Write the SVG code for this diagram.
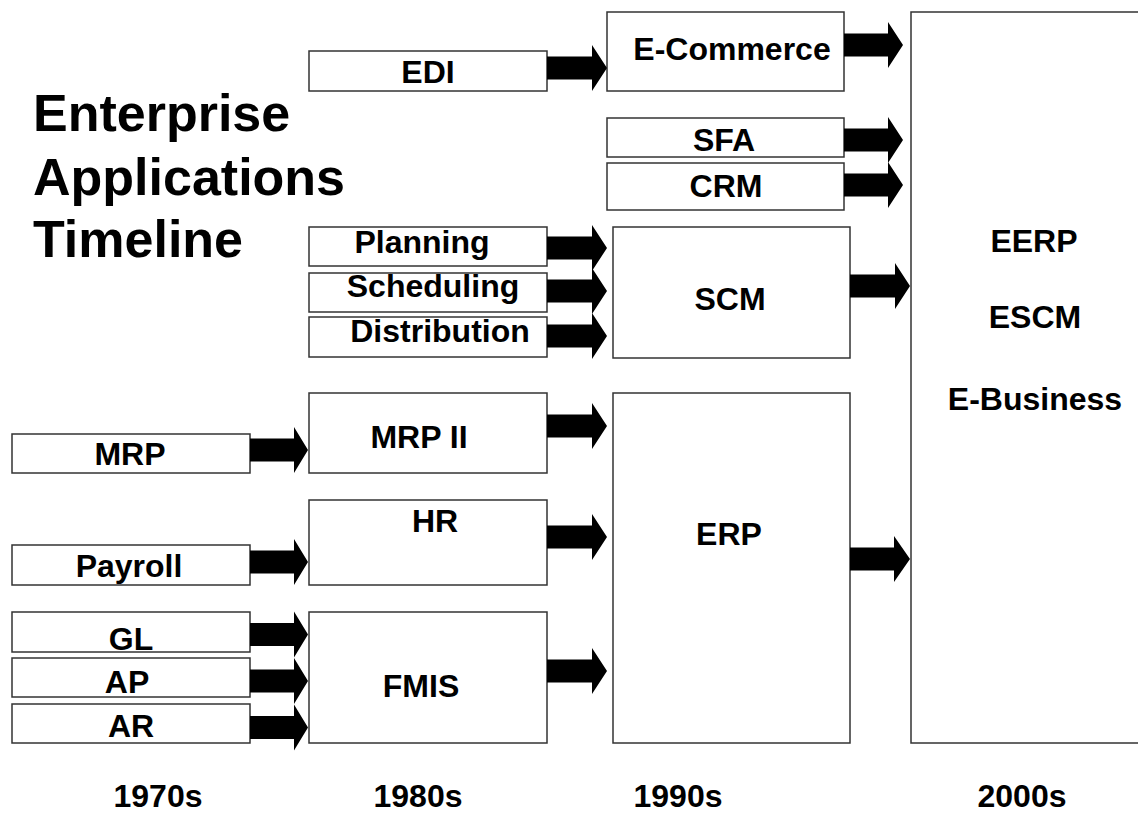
<svg xmlns="http://www.w3.org/2000/svg" width="1138" height="816" viewBox="0 0 1138 816">
<style>
.box{fill:#fff;stroke:#333;stroke-width:1.5}
.arr{fill:#000;stroke:none}
.lbl{font-family:"Liberation Sans",Arial,sans-serif;font-weight:bold;font-size:32px;fill:#000;text-anchor:middle}
.title{font-family:"Liberation Sans",Arial,sans-serif;font-weight:bold;font-size:52px;fill:#000}
</style>
<rect width="1138" height="816" fill="#fff"/>
<g id="title">
<text class="title" x="33" y="131">Enterprise</text>
<text class="title" x="33" y="195">Applications</text>
<text class="title" x="33" y="257">Timeline</text>
</g>
<g id="n-eerp"><rect class="box" x="911" y="12" width="228" height="731"/>
<text class="lbl" x="1034" y="252">EERP</text>
<text class="lbl" x="1035" y="328">ESCM</text>
<text class="lbl" x="1035" y="410">E-Business</text></g>
<g id="n-mrp"><rect class="box" x="12" y="434" width="238" height="39"/><text class="lbl" x="130" y="465">MRP</text></g>
<g id="n-payroll"><rect class="box" x="12" y="545" width="238" height="40"/><text class="lbl" x="129" y="577">Payroll</text></g>
<g id="n-gl"><rect class="box" x="12" y="612" width="238" height="40"/><text class="lbl" x="131" y="650">GL</text></g>
<g id="n-ap"><rect class="box" x="12" y="658" width="238" height="39"/><text class="lbl" x="127" y="693">AP</text></g>
<g id="n-ar"><rect class="box" x="12" y="704" width="238" height="39"/><text class="lbl" x="131" y="737">AR</text></g>
<g id="n-edi"><rect class="box" x="309" y="51" width="238" height="40"/><text class="lbl" x="428" y="83">EDI</text></g>
<g id="n-planning"><rect class="box" x="309" y="227" width="238" height="39"/><text class="lbl" x="422" y="253">Planning</text></g>
<g id="n-scheduling"><rect class="box" x="309" y="273" width="238" height="39"/><text class="lbl" x="433" y="297">Scheduling</text></g>
<g id="n-distribution"><rect class="box" x="309" y="317" width="238" height="40"/><text class="lbl" x="440" y="342">Distribution</text></g>
<g id="n-mrp2"><rect class="box" x="309" y="393" width="238" height="80"/><text class="lbl" x="419" y="448">MRP II</text></g>
<g id="n-hr"><rect class="box" x="309" y="500" width="238" height="85"/><text class="lbl" x="435" y="532">HR</text></g>
<g id="n-fmis"><rect class="box" x="309" y="612" width="238" height="131"/><text class="lbl" x="421" y="697">FMIS</text></g>
<g id="n-ecommerce"><rect class="box" x="607" y="12" width="237" height="79"/><text class="lbl" x="732" y="60">E-Commerce</text></g>
<g id="n-sfa"><rect class="box" x="607" y="118" width="237" height="39"/><text class="lbl" x="724" y="151">SFA</text></g>
<g id="n-crm"><rect class="box" x="607" y="163" width="237" height="47"/><text class="lbl" x="726" y="197">CRM</text></g>
<g id="n-scm"><rect class="box" x="613" y="227" width="237" height="131"/><text class="lbl" x="730" y="310">SCM</text></g>
<g id="n-erp"><rect class="box" x="613" y="393" width="237" height="350"/><text class="lbl" x="729" y="545">ERP</text></g>
<g id="years">
<text class="lbl" x="158" y="807">1970s</text>
<text class="lbl" x="418" y="807">1980s</text>
<text class="lbl" x="678" y="807">1990s</text>
<text class="lbl" x="1022" y="807">2000s</text>
</g>
<g id="connectors">
<path class="arr" d="M250 438.5H294V427L308 450L294 473V461.5H250Z"/>
<path class="arr" d="M250 550.5H294V539L308 562L294 585V573.5H250Z"/>
<path class="arr" d="M250 623H294V611.5L308 634.5L294 657.5V646H250Z"/>
<path class="arr" d="M250 669.5H294V658L308 681L294 704V692.5H250Z"/>
<path class="arr" d="M250 716H294V704.5L308 727.5L294 750.5V739H250Z"/>
<path class="arr" d="M547 56.5H592V45L607 68L592 91V79.5H547Z"/>
<path class="arr" d="M547 236.5H592V225L607 248L592 271V259.5H547Z"/>
<path class="arr" d="M547 279.5H592V268L607 291L592 314V302.5H547Z"/>
<path class="arr" d="M547 324.5H592V313L607 336L592 359V347.5H547Z"/>
<path class="arr" d="M547 414.5H592V403L607 426L592 449V437.5H547Z"/>
<path class="arr" d="M547 525.5H592V514L607 537L592 560V548.5H547Z"/>
<path class="arr" d="M547 659.5H592V648L607 671L592 694V682.5H547Z"/>
<path class="arr" d="M844 33.5H888V22L903 45L888 68V56.5H844Z"/>
<path class="arr" d="M844 128.5H888V117L903 140L888 163V151.5H844Z"/>
<path class="arr" d="M844 173.5H888V162L903 185L888 208V196.5H844Z"/>
<path class="arr" d="M850 274.5H895V263L910 286L895 309V297.5H850Z"/>
<path class="arr" d="M850 547.5H894V536L910 559L894 582V570.5H850Z"/>
</g>
</svg>
